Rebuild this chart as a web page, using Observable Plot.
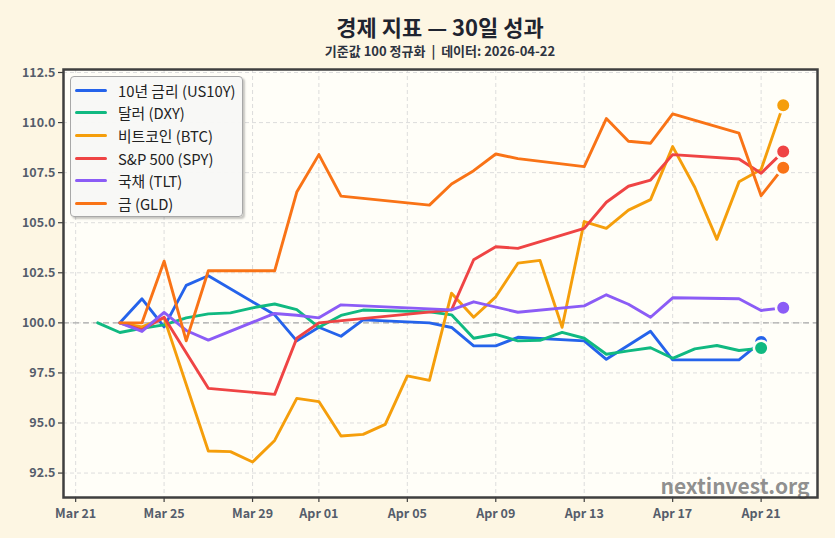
<!DOCTYPE html>
<html>
<head>
<meta charset="utf-8">
<script src="https://cdn.jsdelivr.net/npm/d3@7"></script>
<script src="https://cdn.jsdelivr.net/npm/@observablehq/plot@0.6"></script>
<style>
  html, body { margin: 0; padding: 0; background: #fdf6e3; }
  #wrap { position: relative; width: 835px; height: 538px; overflow: hidden; background: #fdf6e3;
          font-family: "Noto Sans CJK KR", "Noto Sans", sans-serif; }
  #title { position: absolute; left: 45px; width: 790px; top: 12px; text-align: center;
           font-size: 22px; font-weight: 700; color: #1f2430; line-height: 28px; }
  #subtitle { position: absolute; left: 45px; width: 790px; top: 42px; text-align: center;
              font-size: 13px; font-weight: 700; color: #2d3340; line-height: 18px; }
  #chart { position: absolute; left: 0; top: 62px; }
  #legend { position: absolute; left: 70px; top: 76px; width: 171px; height: 139px;
            border: 1px solid #a8a8a8; border-radius: 4px; background: rgba(248,248,246,0.96);
            box-shadow: 2px 2px 2px rgba(0,0,0,0.22); }
  .row { position: absolute; left: 4px; height: 20px; display: flex; align-items: center;
         font-size: 14.8px; color: #222; white-space: nowrap; }
  .sw { width: 32px; height: 3px; border-radius: 1.5px; margin-right: 11px; }
</style>
</head>
<body>
<div id="wrap">
  <div id="title">경제 지표 — 30일 성과</div>
  <div id="subtitle">기준값 100 정규화 &nbsp;|&nbsp; 데이터: 2026-04-22</div>
  <div id="chart"></div>
  <div id="legend"></div>
</div>
<script>
// Trading days, Mar 22 – Apr 22 2026
const dates = [
  "2026-03-22", "2026-03-23", "2026-03-24", "2026-03-25", "2026-03-26", "2026-03-27",
  "2026-03-28", "2026-03-29", "2026-03-30", "2026-03-31", "2026-04-01", "2026-04-02",
  "2026-04-03", "2026-04-04", "2026-04-05", "2026-04-06", "2026-04-07", "2026-04-08",
  "2026-04-09", "2026-04-10", "2026-04-11", "2026-04-12", "2026-04-13", "2026-04-14",
  "2026-04-15", "2026-04-16", "2026-04-17", "2026-04-18", "2026-04-19", "2026-04-20",
  "2026-04-21", "2026-04-22"
];

const seriesNames = ["10년 금리 (US10Y)", "달러 (DXY)", "비트코인 (BTC)", "S&P 500 (SPY)", "국채 (TLT)", "금 (GLD)"];
const seriesColors = ["#2563eb", "#10b981", "#f59e0b", "#ef4444", "#8b5cf6", "#f97316"];

// Normalised values (base = 100); null = no observation that day
const us10y = [null, 100.0, 101.2, 99.8, 101.87, 102.35, null, null, 100.4, 99.1, 99.78, 99.33,
               100.15, null, null, 100.0, 99.77, 98.85, 98.85, 99.28, null, null, 99.1, 98.18,
               null, 99.58, 98.15, null, null, 98.15, 99.05, null];
const dxy   = [100.0, 99.52, 99.73, 99.9, 100.25, 100.45, 100.5, 100.75, 100.94, 100.66, 99.78, 100.37,
               100.64, null, null, 100.55, 100.4, 99.23, 99.43, 99.1, 99.13, 99.52, 99.23, 98.43,
               98.6, 98.76, 98.23, 98.7, 98.87, 98.62, 98.74, null];
const btc   = [null, 100.0, 99.8, 100.25, null, 93.6, 93.57, 93.05, 94.13, 96.23, 96.07, 94.35,
               94.43, 94.93, 97.35, 97.13, 101.48, 100.28, 101.3, 102.98, 103.12, 99.78, 105.06, 104.72,
               105.63, 106.15, 108.8, 106.77, 104.17, 107.04, 107.66, 110.87];
const spy   = [null, 100.0, 99.65, 100.28, null, 96.73, null, null, 96.43, 99.23, 100.0, null,
               null, null, null, null, 100.65, 103.15, 103.8, 103.72, null, null, 104.72, 106.02,
               106.82, 107.13, 108.4, null, null, 108.18, 107.47, 108.55];
const tlt   = [null, 100.0, 99.57, 100.52, 99.62, 99.14, null, null, 100.47, 100.38, 100.25, 100.9,
               100.85, null, null, null, 100.65, 101.05, null, 100.53, null, null, 100.85, 101.4,
               100.93, 100.28, 101.25, null, null, 101.2, 100.62, 100.75];
const gld   = [null, 100.0, 100.0, 103.08, 99.1, 102.6, null, null, 102.6, 106.53, 108.4, 106.33,
               null, null, null, 105.88, 106.93, 107.6, 108.43, 108.2, null, null, 107.8, 110.2,
               109.07, 108.97, 110.43, null, null, 109.47, 106.35, 107.75];

const xTickDates = ["2026-03-21", "2026-03-25", "2026-03-29", "2026-04-01", "2026-04-05",
                    "2026-04-09", "2026-04-13", "2026-04-17", "2026-04-21"];
const yTicks = [92.5, 95.0, 97.5, 100.0, 102.5, 105.0, 107.5, 110.0, 112.5];

const seriesValues = [us10y, dxy, btc, spy, tlt, gld];

// Long-format rows for the line marks, plus the last observation of each series
const rows = [];
const lastRows = [];
seriesNames.forEach((name, i) => {
  let last = null;
  seriesValues[i].forEach((v, j) => {
    if (v == null) return;
    const r = {name, date: new Date(dates[j]), value: v};
    rows.push(r);
    last = r;
  });
  lastRows.push(last);
});

const xExtent = d3.extent(dates, d => new Date(d));
const pad = (xExtent[1] - xExtent[0]) * 0.05;
const xDomain = [new Date(+xExtent[0] - pad), new Date(+xExtent[1] + pad)];
const xTicks = xTickDates.map(d => new Date(d));

const bgPlot = "#fffef8";
const font = '"Noto Sans CJK KR", "Noto Sans", sans-serif';

const chart = Plot.plot({
  width: 835,
  height: 476,
  marginTop: 7,
  marginBottom: 41,
  marginLeft: 63,
  marginRight: 18,
  style: {background: "transparent", fontFamily: font, fontSize: "12px"},
  x: {type: "utc", domain: xDomain},
  y: {domain: [91.28, 112.65]},
  color: {domain: seriesNames, range: seriesColors},
  marks: [
    Plot.frame({fill: bgPlot, stroke: null}),
    Plot.gridX(xTicks, {stroke: "#d9d9d9", strokeOpacity: 1, strokeDasharray: "4,3", strokeWidth: 0.9}),
    Plot.gridY(yTicks, {stroke: "#d9d9d9", strokeOpacity: 1, strokeDasharray: "4,3", strokeWidth: 0.9}),
    Plot.ruleY([100], {stroke: "#ababab", strokeDasharray: "6,4", strokeWidth: 1.3}),
    Plot.line(rows, {x: "date", y: "value", z: "name", stroke: "name", strokeWidth: 2.9,
                     strokeLinejoin: "round", strokeLinecap: "round"}),
    Plot.dot(lastRows, {x: "date", y: "value", fill: "name", r: 7.3, stroke: bgPlot, strokeWidth: 2.6}),
    Plot.text(["nextinvest.org"], {text: d => d, frameAnchor: "bottom-right", textAnchor: "end",
                                   lineAnchor: "bottom", dx: -8, dy: -4, fontSize: 21, fontWeight: 700,
                                   fill: "#7c7c7c", fillOpacity: 0.85}),
    Plot.frame({stroke: "#3f3f3f", strokeWidth: 2.5}),
    Plot.axisX(xTicks, {tickFormat: d3.utcFormat("%b %d"), tickSize: 5, tickPadding: 7,
                        fontSize: 12.5, fontWeight: 600, fill: "#555d6b", stroke: "#3f3f3f",
                        strokeWidth: 1.2, label: null}),
    Plot.axisY(yTicks, {tickFormat: d => d.toFixed(1), tickSize: 5, tickPadding: 3,
                        fontSize: 12.5, fontWeight: 600, fill: "#555d6b", stroke: "#3f3f3f",
                        strokeWidth: 1.2, label: null})
  ]
});
document.getElementById("chart").appendChild(chart);

// Legend box
const legend = document.getElementById("legend");
seriesNames.forEach((name, i) => {
  const row = document.createElement("div");
  row.className = "row";
  row.style.top = (3 + i * 22.7) + "px";
  const sw = document.createElement("div");
  sw.className = "sw";
  sw.style.background = seriesColors[i];
  const label = document.createElement("span");
  label.textContent = name;
  row.appendChild(sw);
  row.appendChild(label);
  legend.appendChild(row);
});
</script>
</body>
</html>
